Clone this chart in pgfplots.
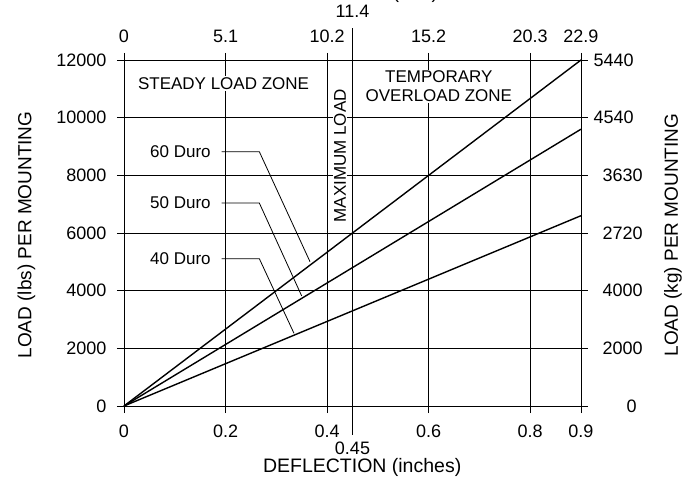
\documentclass[border=0pt]{standalone}
\usepackage{fontspec}
\setmainfont{Liberation Sans}
\usepackage{pgfplots}
\pgfplotsset{compat=1.18}
\begin{document}
\begin{tikzpicture}
\pgfplotsset{
  base/.style={
    scale only axis, width=457pt, height=346pt,
    xmin=0, xmax=0.9, ymin=0, ymax=12000,
    xtick={0,0.2,0.4,0.6,0.8,0.9},
    ytick={0,2000,4000,6000,8000,10000,12000},
    tick align=outside, major tick length=7pt,
    axis line style={line width=0.9pt},
    every tick/.style={black, line width=0.9pt},
    tick label style={font=\fontsize{18}{20}\selectfont},
    /pgf/number format/assume math mode=true,
    scaled ticks=false, clip=false,
  },
}
\tikzset{ann/.style={font=\fontsize{17}{19}\selectfont, fill=white, inner sep=2pt}}
\begin{axis}[base,
    xtick pos=left, ytick pos=left,
    grid=major, grid style={black, line width=0.9pt},
    xticklabels={0,0.2,0.4,0.6,0.8,0.9},
    yticklabels={0,2000,4000,6000,8000,10000,12000},
    xticklabel style={yshift=-8pt},
    yticklabel style={xshift=-7pt},
  ]
  \coordinate (bl) at (axis cs:0,0);

  % rubber curves
  \addplot[black, line width=1.4pt] coordinates {(0,0) (0.9,12000)};
  \addplot[black, line width=1.4pt] coordinates {(0,0) (0.9,9600)};
  \addplot[black, line width=1.4pt] coordinates {(0,0) (0.9,6600)};

  % leaders
  \addplot[black, line width=0.8pt] coordinates {(0.1924,8820) (0.2665,8820) (0.3663,5005)};
  \addplot[black, line width=0.8pt] coordinates {(0.1924,7040) (0.2665,7040) (0.3500,3815)};
  \addplot[black, line width=0.8pt] coordinates {(0.1924,5110) (0.2665,5110) (0.3348,2520)};

  \node[ann, anchor=east, fill=none] at (axis cs:0.175,8820) {60 Duro};
  \node[ann, anchor=east, fill=none] at (axis cs:0.175,7040) {50 Duro};
  \node[ann, anchor=east, fill=none] at (axis cs:0.175,5110) {40 Duro};

  \node[ann, inner sep=1.5pt] at (axis cs:0.196,11190) {STEADY LOAD ZONE};
  \node[ann, align=center, inner sep=1pt] at (axis cs:0.62,11080) {TEMPORARY\\OVERLOAD ZONE};
  \node[ann, rotate=90, inner sep=1pt] at (axis cs:0.4254,8676) {MAXIMUM LOAD};

  % maximum load line
  \addplot[black, line width=1.6pt] coordinates {(0.45,-1000) (0.45,13110)};
  \node[font=\fontsize{18}{20}\selectfont] at (axis cs:0.45,-1450) {0.45};
  \node[font=\fontsize{18}{20}\selectfont] at (axis cs:0.45,13700) {11.4};

  % axis titles
  \node[font=\fontsize{19.5}{21}\selectfont] at (axis cs:0.469,-2130) {DEFLECTION (inches)};
  \node[font=\fontsize{19.5}{21}\selectfont, anchor=base] at (axis cs:0.447,14116) {DEFLECTION (mm)};
  \node[font=\fontsize{19}{21}\selectfont, rotate=90] at (axis cs:-0.192,5930) {LOAD (lbs) PER MOUNTING};
  \node[font=\fontsize{19}{21}\selectfont, rotate=90] at (axis cs:1.0811,5930) {LOAD (kg) PER MOUNTING};
\end{axis}
\begin{axis}[base,
    xtick pos=right, ytick pos=right,
    xticklabel pos=right, yticklabel pos=right,
    xticklabels={0,5.1,10.2,15.2,20.3,22.9},
    yticklabels={\hspace{33pt}0,\hspace{9pt}2000,\hspace{9pt}4000,\hspace{9pt}2720,\hspace{9pt}3630,4540,5440},
    xticklabel style={yshift=7pt},
    yticklabel style={xshift=2pt},
  ]
\end{axis}
\pgfresetboundingbox
\useasboundingbox ([shift={(-124pt,-76pt)}]bl) rectangle ([shift={(572pt,406pt)}]bl);
\end{tikzpicture}
\end{document}
